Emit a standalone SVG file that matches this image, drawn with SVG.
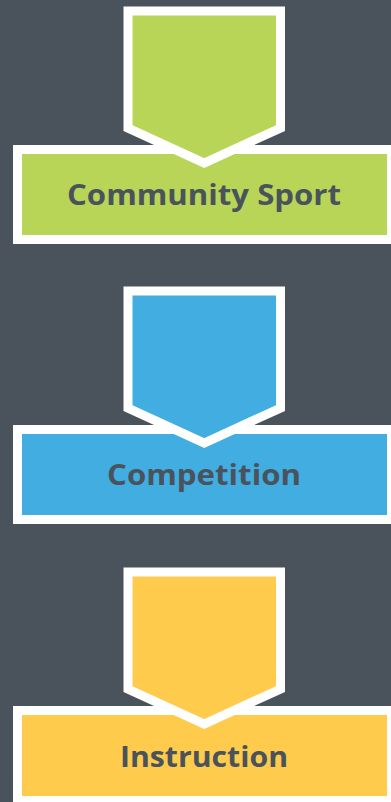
<svg xmlns="http://www.w3.org/2000/svg" width="391" height="802" viewBox="0 0 391 802">
<style>
.box{stroke:#fff;stroke-width:9;stroke-linejoin:miter;stroke-miterlimit:10}
.lbl{font-family:"Open Sans","Liberation Sans",sans-serif;font-weight:700;font-size:28px;fill:#4a535c;text-anchor:middle}
</style>
<defs>
<path id="arrow" d="M128,11 H280.5 V128 L204.25,163 L128,128 Z"/>
</defs>
<rect x="0" y="0" width="391" height="802" fill="#4a535c"/>
<g id="connectors"></g>
<g id="community-sport">
<rect class="box" x="17.5" y="149.5" width="374" height="90" fill="#b8d557"/>
<use href="#arrow" class="box" fill="#b8d557"/>
<text class="lbl" x="204" y="205" textLength="274" lengthAdjust="spacingAndGlyphs">Community Sport</text>
</g>
<g id="competition" transform="translate(0,280)">
<rect class="box" x="17.5" y="149.5" width="374" height="90" fill="#41ade1"/>
<use href="#arrow" class="box" fill="#41ade1"/>
<text class="lbl" x="204" y="205" textLength="194" lengthAdjust="spacingAndGlyphs">Competition</text>
</g>
<g id="instruction" transform="translate(0,561)">
<rect class="box" x="17.5" y="149.5" width="374" height="90" fill="#fecb4c"/>
<use href="#arrow" class="box" fill="#fecb4c"/>
<text class="lbl" x="204" y="206" textLength="168" lengthAdjust="spacingAndGlyphs">Instruction</text>
</g>
</svg>
